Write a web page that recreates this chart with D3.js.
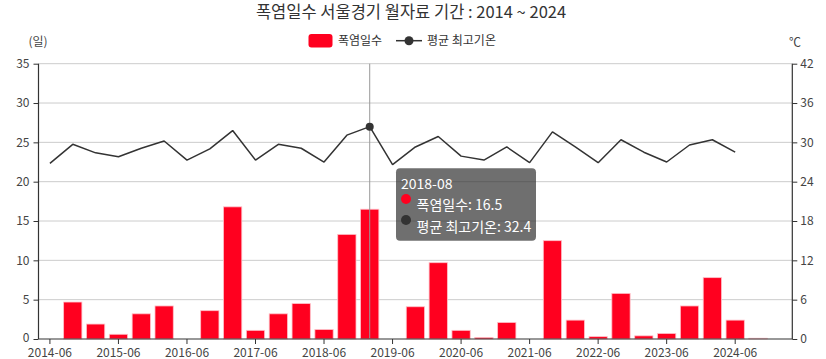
<!DOCTYPE html>
<html><head><meta charset="utf-8">
<script src="https://cdn.jsdelivr.net/npm/d3@7/dist/d3.min.js"></script>
<style>
html,body{margin:0;padding:0;background:#fff;}
svg{display:block;font-family:"Noto Sans CJK KR","Noto Sans",sans-serif;}
</style></head>
<body><svg id="c" width="826" height="359"></svg>
<script>
const years = [2014,2015,2016,2017,2018,2019,2020,2021,2022,2023,2024];
const months = ["06","07","08"];
const categories = years.flatMap(y => months.map(m => y + "-" + m));
const heatDays = [0,4.7,1.9, 0.6,3.2,4.2, 0,3.6,16.8, 1.1,3.2,4.5, 1.2,13.3,16.5, 0,4.1,9.7, 1.1,0.2,2.1, 0,12.5,2.4, 0.3,5.8,0.4, 0.7,4.2,7.8, 2.4,0.1,null];
const maxTemp = [26.8,29.7,28.4, 27.8,29.1,30.2, 27.3,29.0,31.8, 27.3,29.7,29.1, 27.0,31.1,32.4, 26.6,29.3,30.9, 27.9,27.3,29.3, 26.9,31.6,29.3, 26.9,30.4,28.5, 27.0,29.6,30.4, 28.5,null,null];
const leftTicks = [0,5,10,15,20,25,30,35];
const rightTicks = [0,6,12,18,24,30,36,42];
const tickLabels = years.map(y => y + "-06");
const title = "폭염일수 서울경기 월자료 기간 : 2014 ~ 2024";
const seriesNames = ["폭염일수","평균 최고기온"];
const highlight = "2018-08";

const svg = d3.select("#c");
const L = 38.5, R = 792.3, T = 63.7, B = 339;
const xb = d3.scaleBand().domain(categories).range([L, R]);
const yL = d3.scaleLinear().domain([0,35]).range([B, T]);
const yR = d3.scaleLinear().domain([0,42]).range([B, T]);

// gridlines
svg.append("g").selectAll("line").data(leftTicks.slice(1)).join("line")
  .attr("x1", L).attr("x2", R).attr("y1", d => yL(d)).attr("y2", d => yL(d))
  .attr("stroke", "#ccc").attr("stroke-width", 1);

// bars
const bw = xb.bandwidth()*0.8;
svg.append("g").selectAll("rect").data(categories.map((c,i)=>({c,v:heatDays[i]})).filter(d=>d.v!=null && d.v>0)).join("rect")
  .attr("x", d => xb(d.c) + (xb.bandwidth()-bw)/2)
  .attr("width", bw)
  .attr("y", d => yL(d.v))
  .attr("height", d => B - yL(d.v))
  .attr("fill", "#ff001f").attr("stroke", "#ffc0c8").attr("stroke-width", 0.8);

// crosshair
const hx = xb(highlight) + xb.bandwidth()/2;
svg.append("line").attr("x1", hx).attr("x2", hx).attr("y1", T).attr("y2", B)
  .attr("stroke", "#999").attr("stroke-width", 1);

// line
const lineData = categories.map((c,i)=>({c,v:maxTemp[i]}));
const line = d3.line().defined(d => d.v != null)
  .x(d => xb(d.c) + xb.bandwidth()/2).y(d => yR(d.v));
svg.append("path").datum(lineData).attr("d", line)
  .attr("fill","none").attr("stroke","#333").attr("stroke-width",1.5).attr("stroke-linejoin","bevel");
const hi = categories.indexOf(highlight);
svg.append("circle").attr("cx", hx).attr("cy", yR(maxTemp[hi])).attr("r", 4).attr("fill", "#333");

// axes
const axL = svg.append("g").attr("transform", `translate(${L},0)`)
  .call(d3.axisLeft(yL).tickValues(leftTicks).tickSize(5).tickPadding(4));
const axR = svg.append("g").attr("transform", `translate(${R},0)`)
  .call(d3.axisRight(yR).tickValues(rightTicks).tickSize(5).tickPadding(3));
const axB = svg.append("g").attr("transform", `translate(0,${B})`)
  .call(d3.axisBottom(xb).tickValues(tickLabels).tickSize(5).tickPadding(4));
[axL, axR, axB].forEach(a => {
  a.select(".domain").attr("stroke", "#333").attr("stroke-width", 1.2);
  a.selectAll(".tick line").attr("stroke", "#333");
  a.selectAll("text").attr("fill", "#444").style("font-size", "12px")
    .style("font-family", "'Noto Sans CJK KR','Noto Sans',sans-serif");
});
axL.select(".domain").attr("d", `M0,${B}V${T}`);
axR.select(".domain").attr("d", `M0,${B}V${T}`);
axB.select(".domain").attr("d", `M${L},0H${R}`);
axL.selectAll(".tick text").filter(d => d === 0).attr("dy", "0.2em");

// axis names
svg.append("text").attr("x", 38).attr("y", 46).attr("text-anchor","middle")
  .attr("fill", "#444").style("font-size","12px").text("(일)");
svg.append("text").attr("x", 795).attr("y", 47).attr("text-anchor","middle")
  .attr("fill", "#444").style("font-size","12px").text("℃");

// title
svg.append("text").attr("x", 411).attr("y", 18).attr("text-anchor","middle")
  .attr("fill", "#333").style("font-size","16.5px").text(title);

// legend
const lg = svg.append("g");
lg.append("rect").attr("x", 308.5).attr("y", 34).attr("width", 24).attr("height", 13.5).attr("rx", 3).attr("fill", "#ff001f");
lg.append("text").attr("x", 338).attr("y", 45).attr("fill", "#333").style("font-size","12px").text(seriesNames[0]);
lg.append("line").attr("x1", 396).attr("x2", 422).attr("y1", 40.7).attr("y2", 40.7).attr("stroke", "#333").attr("stroke-width", 1.5);
lg.append("circle").attr("cx", 409).attr("cy", 40.7).attr("r", 4.5).attr("fill", "#333");
lg.append("text").attr("x", 427).attr("y", 45).attr("fill", "#333").style("font-size","12px").text(seriesNames[1]);

// tooltip
const tt = svg.append("g");
tt.append("rect").attr("x", 396).attr("y", 168.3).attr("width", 140).attr("height", 72.5).attr("rx", 4)
  .attr("fill", "rgba(50,50,50,0.7)");
tt.append("text").attr("x", 401).attr("y", 189).attr("fill", "#fff").style("font-size","14px").text(highlight);
tt.append("circle").attr("cx", 406).attr("cy", 199).attr("r", 5).attr("fill", "#ff001f");
tt.append("text").attr("x", 416.5).attr("y", 209.5).attr("fill", "#fff").style("font-size","14px")
  .text(seriesNames[0] + ": " + heatDays[hi]);
tt.append("circle").attr("cx", 406).attr("cy", 220).attr("r", 5).attr("fill", "#333");
tt.append("text").attr("x", 416.5).attr("y", 232).attr("fill", "#fff").style("font-size","14px")
  .text(seriesNames[1] + ": " + maxTemp[hi]);
</script></body></html>
